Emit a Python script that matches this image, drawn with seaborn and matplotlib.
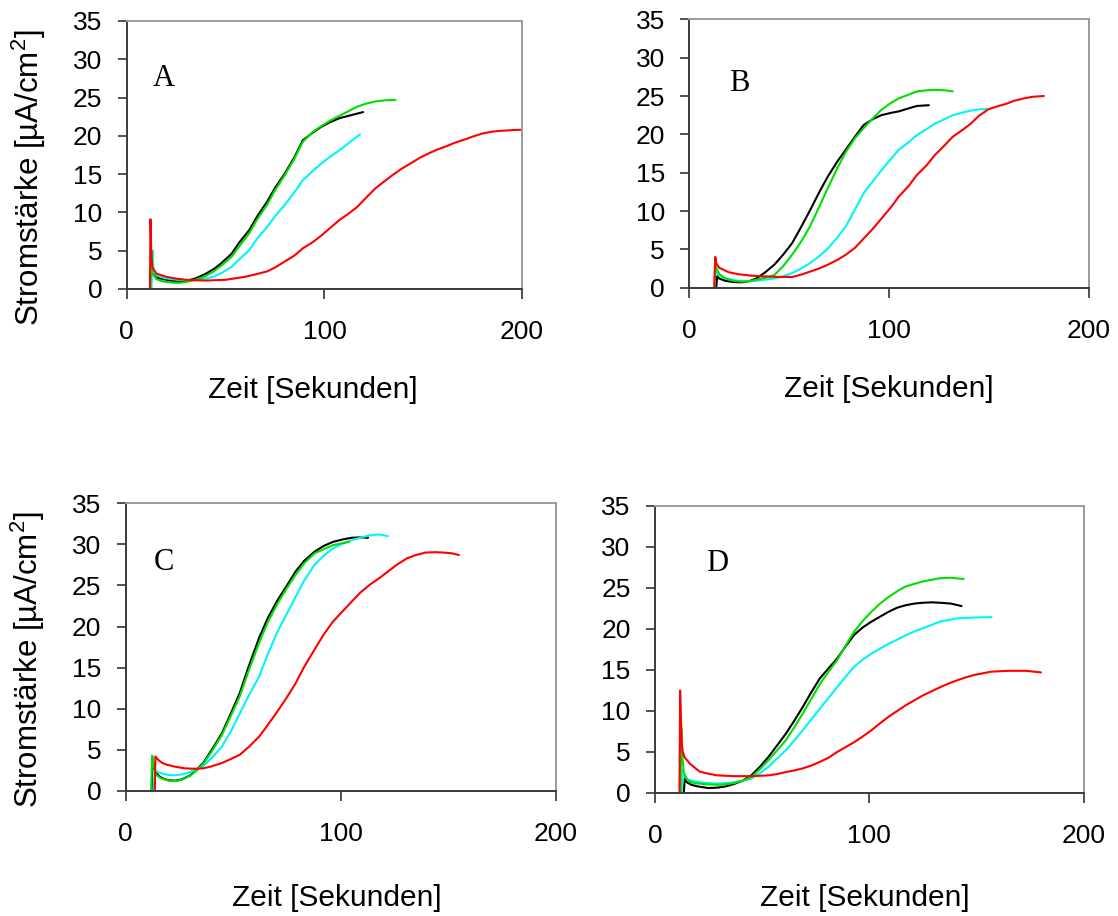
import matplotlib
matplotlib.use("Agg")
import matplotlib.pyplot as plt
import pandas as pd
import seaborn as sns

# ---------------- data ----------------
series_names = ["schwarz", "cyan", "grün", "rot"]
series_colors = {"schwarz": "#000000", "cyan": "#00f5f5", "grün": "#00e000", "rot": "#ff0000"}
panel_letters = ["A", "B", "C", "D"]
x_ticks = [0, 100, 200]
y_ticks = [0, 5, 10, 15, 20, 25, 30, 35]
x_label = "Zeit [Sekunden]"
y_label = "Stromstärke [µA/cm$^{\\mathregular{2}}$]"

# Panel A
A_black_t = [12.0, 12.3, 13, 15, 18, 22, 26, 30, 35, 40, 44, 48, 53, 57, 62, 66, 71, 75, 80, 85,
             89, 94, 98.5, 103, 107.5, 112, 116.5, 119.6]
A_black_i = [0, 3.0, 2.0, 1.5, 1.3, 1.1, 1.0, 1.05, 1.4, 2.0, 2.6, 3.4, 4.6, 6.1, 7.7, 9.5, 11.4, 13.2, 15.1, 17.3,
             19.4, 20.4, 21.2, 21.8, 22.3, 22.6, 22.9, 23.1]
A_green_t = [12.0, 12.5, 13, 15, 18, 22, 26, 30, 35, 40, 44, 48, 53, 57, 62, 66, 71, 75, 80, 85,
             89, 94, 98.5, 103, 107.5, 112, 116.5, 121, 126, 131, 136]
A_green_i = [0, 5.0, 2.0, 1.3, 1.0, 0.85, 0.8, 0.9, 1.2, 1.7, 2.3, 3.1, 4.2, 5.6, 7.3, 9.1, 11.0, 12.9, 14.9, 17.1,
             19.2, 20.5, 21.3, 22.0, 22.6, 23.2, 23.8, 24.2, 24.5, 24.65, 24.7]
A_cyan_t = [12.5, 13, 13.5, 15, 18, 22, 26, 30, 35, 40, 44, 48, 53, 57, 62, 66, 71, 75, 80, 85,
            89, 94, 98.5, 103, 107.5, 112, 118]
A_cyan_i = [0, 5.0, 2.5, 1.8, 1.5, 1.3, 1.2, 1.15, 1.2, 1.35, 1.6, 2.1, 2.9, 3.9, 5.1, 6.6, 8.1, 9.5, 11.0, 12.7,
            14.2, 15.4, 16.4, 17.3, 18.1, 19.0, 20.2]
A_red_t = [11.7, 12, 12.5, 13, 15, 20, 25, 30, 35, 40, 45, 50, 55, 60, 65, 71, 75, 80, 85, 89,
           94, 98.5, 103, 107.5, 112, 116.5, 121, 125.6, 130, 134.6, 139, 143.6, 148, 152.7, 157, 161.7, 166,
           170.7, 175, 179.8, 185, 188.8, 195, 200]
A_red_i = [0, 9.1, 4.0, 2.8, 2.0, 1.6, 1.35, 1.2, 1.15, 1.1, 1.15, 1.2, 1.4, 1.6, 1.9, 2.3, 2.8, 3.6, 4.4, 5.3,
           6.1, 7.0, 8.0, 9.0, 9.8, 10.7, 11.9, 13.1, 14.0, 14.9, 15.7, 16.4, 17.1, 17.7, 18.2, 18.65, 19.1,
           19.5, 19.9, 20.3, 20.55, 20.65, 20.75, 20.8]

# Panel B
B_black_t = [13.5, 14, 15, 18, 22, 26, 30, 33.6, 38, 42.6, 47, 51.5, 56, 60.5, 65, 69.4, 74, 78.4, 83, 87.3,
             92, 96.2, 101, 105, 110, 114, 120]
B_black_i = [0, 1.5, 1.2, 0.9, 0.75, 0.7, 0.85, 1.2, 2.0, 3.0, 4.3, 5.8, 7.9, 10.1, 12.4, 14.5, 16.4, 18.0, 19.7, 21.2,
             22.0, 22.5, 22.8, 23.0, 23.4, 23.7, 23.8]
B_green_t = [12.8, 13, 13.5, 15, 18, 22, 26, 30, 35, 38, 42.6, 47, 51.5, 56, 60.5, 65, 69.4, 74, 78.4, 83,
             87.3, 92, 96.2, 101, 105, 110, 114, 119, 123, 128, 132]
B_green_i = [0, 4.0, 2.6, 1.8, 1.2, 0.9, 0.8, 0.85, 1.1, 1.3, 1.65, 2.8, 4.3, 6.0, 8.0, 10.5, 13.0, 15.5, 17.7, 19.5,
             20.8, 22.1, 23.2, 24.1, 24.7, 25.2, 25.6, 25.75, 25.8, 25.75, 25.6]
B_cyan_t = [12.8, 13, 13.5, 15, 18, 22, 26, 30, 35, 38, 42.6, 47, 51.5, 56, 60.5, 65, 69.4, 74, 78.4, 83,
            87.3, 92, 96.2, 101, 105, 110, 114, 119, 123, 128, 132, 137, 141, 145, 149]
B_cyan_i = [0, 2.6, 2.0, 1.6, 1.2, 1.0, 0.85, 0.85, 0.95, 1.05, 1.2, 1.5, 1.9, 2.5, 3.2, 4.1, 5.1, 6.5, 8.0, 10.2,
            12.3, 13.9, 15.3, 16.8, 18.0, 19.0, 19.9, 20.7, 21.4, 22.0, 22.5, 22.85, 23.1, 23.25, 23.3]
B_red_t = [12.5, 13, 13.5, 15, 20, 25, 30, 35, 40, 45, 51.5, 56, 60.5, 65, 69.4, 74, 78.4, 83, 87.3, 92,
           96.2, 101, 105, 110, 114, 119, 123, 128, 132, 137, 141, 145, 150, 155, 158.9, 163, 167.8, 172, 177.6]
B_red_i = [0, 4.0, 3.2, 2.6, 2.0, 1.75, 1.6, 1.5, 1.45, 1.4, 1.4, 1.7, 2.1, 2.5, 3.0, 3.6, 4.3, 5.2, 6.4, 7.7,
           9.0, 10.5, 11.9, 13.3, 14.7, 16.0, 17.3, 18.6, 19.7, 20.6, 21.4, 22.4, 23.3, 23.7, 24.0, 24.4, 24.7,
           24.9, 25.0]

# Panel C
C_black_t = [12.0, 12.5, 13, 14, 16, 18, 20, 23, 26, 30, 33, 36, 40, 44.7, 49, 53, 57, 62, 66, 70.6,
             75, 79, 83, 87.8, 92, 96.4, 101, 105, 109, 112.7]
C_black_i = [0, 4.0, 3.0, 2.2, 1.7, 1.45, 1.3, 1.25, 1.4, 1.9, 2.6, 3.4, 5.0, 7.0, 9.5, 11.9, 15.0, 18.6, 21.0, 23.2,
             25.0, 26.7, 28.0, 29.1, 29.8, 30.3, 30.6, 30.8, 30.85, 30.8]
C_green_t = [11.8, 12.3, 13, 14, 16, 18, 20, 23, 26, 30, 33, 36, 40, 44.7, 49, 53, 57, 62, 66, 70.6,
             75, 79, 83, 87.8, 92, 96.4, 100, 104]
C_green_i = [0, 4.3, 3.0, 2.0, 1.6, 1.4, 1.25, 1.2, 1.35, 1.85, 2.5, 3.3, 4.8, 6.8, 9.2, 11.5, 14.5, 18.0, 20.5, 22.8,
             24.7, 26.3, 27.7, 28.9, 29.4, 29.9, 30.1, 30.3]
C_cyan_t = [13.0, 13.5, 14, 16, 18, 20, 22, 26, 30, 33, 36, 40, 44.7, 49, 53, 57, 62, 66, 70.6, 75,
            79, 83, 87.8, 92, 96.4, 101, 105, 109, 113.6, 118, 122]
C_cyan_i = [0, 2.6, 2.4, 2.2, 2.05, 1.95, 1.9, 2.0, 2.3, 2.7, 3.0, 4.0, 5.4, 7.3, 9.4, 11.5, 13.9, 16.6, 19.4, 21.6,
            23.6, 25.6, 27.5, 28.6, 29.5, 30.1, 30.5, 30.8, 31.1, 31.2, 31.0]
C_red_t = [13.5, 13.8, 15, 17, 19, 23, 27.5, 32, 36, 40, 44.7, 49, 53, 57, 62, 66, 70.6, 75, 79, 83,
           87.8, 92, 96.4, 101, 105, 109, 113.6, 118, 122, 126, 130.8, 135, 139.4, 144, 148, 152, 155]
C_red_i = [0, 4.2, 3.8, 3.4, 3.2, 2.95, 2.75, 2.7, 2.75, 3.0, 3.4, 3.9, 4.4, 5.3, 6.6, 8.0, 9.7, 11.4, 13.1, 15.1,
           17.2, 19.0, 20.6, 21.9, 23.0, 24.1, 25.1, 25.9, 26.7, 27.5, 28.3, 28.7, 29.0, 29.05, 29.0, 28.9, 28.7]

# Panel D
D_black_t = [13.5, 14, 15, 17, 20, 25, 29, 33, 37, 41, 45, 49, 53, 57, 61, 65, 69, 73, 77, 81,
             85, 89, 93, 97, 101, 105, 109, 113, 117, 121, 125, 129, 133, 138, 143]
D_black_i = [0, 1.8, 1.3, 1.0, 0.8, 0.6, 0.65, 0.8, 1.1, 1.5, 2.15, 3.2, 4.4, 5.8, 7.2, 8.8, 10.5, 12.3, 14.0, 15.2,
             16.4, 17.9, 19.3, 20.2, 20.9, 21.5, 22.1, 22.6, 22.9, 23.1, 23.2, 23.25, 23.2, 23.1, 22.8]
D_green_t = [12.0, 12.3, 12.8, 13.5, 15, 17, 20, 25, 29, 33, 37, 41, 45, 49, 53, 57, 61, 65, 69, 73,
             77, 81, 85, 89, 93, 97, 101, 105, 109, 113, 117, 121, 125, 129, 133, 138, 144]
D_green_i = [0, 8.0, 4.5, 2.5, 1.6, 1.3, 1.15, 1.05, 1.0, 1.05, 1.2, 1.5, 1.95, 2.9, 4.0, 5.2, 6.4, 8.0, 9.7, 11.5,
             13.3, 14.8, 16.2, 18.0, 19.7, 21.0, 22.1, 23.1, 23.9, 24.6, 25.2, 25.5, 25.8, 26.0, 26.2, 26.25, 26.1]
D_cyan_t = [12.5, 13, 13.5, 15, 17, 20, 25, 29, 33, 37, 41, 45, 49, 53, 57, 61, 65, 69, 73, 77,
            81, 85, 89, 93, 97, 101, 105, 109, 113, 117, 121, 125, 129, 133, 137, 141, 149, 157]
D_cyan_i = [0, 2.8, 2.2, 1.7, 1.5, 1.35, 1.2, 1.15, 1.2, 1.3, 1.5, 1.75, 2.4, 3.2, 4.2, 5.2, 6.4, 7.65, 9.0, 10.3,
            11.6, 12.9, 14.2, 15.4, 16.3, 17.0, 17.6, 18.2, 18.7, 19.25, 19.7, 20.1, 20.5, 20.9, 21.1, 21.3, 21.4, 21.45]
D_red_t = [11.5, 11.8, 12.2, 12.6, 13, 14, 16.3, 19, 21, 25, 29, 33, 37, 41, 45, 49, 53, 57, 61, 65,
           69, 73, 77, 81, 85, 89, 93, 97, 101, 105, 109, 113, 117, 121, 125, 129, 133, 137, 141, 145,
           149, 153, 157, 161, 165, 173, 180]
D_red_i = [0, 12.5, 9.0, 6.0, 5.0, 4.3, 3.6, 3.0, 2.6, 2.35, 2.15, 2.1, 2.05, 2.05, 2.05, 2.1, 2.15, 2.3, 2.55, 2.75,
           3.0, 3.35, 3.8, 4.3, 5.0, 5.6, 6.2, 6.9, 7.65, 8.5, 9.3, 10.0, 10.7, 11.3, 11.9, 12.4, 12.9, 13.35, 13.75,
           14.1, 14.4, 14.6, 14.8, 14.85, 14.9, 14.9, 14.7]

panel_data = {
    "A": {"schwarz": (A_black_t, A_black_i), "cyan": (A_cyan_t, A_cyan_i),
          "grün": (A_green_t, A_green_i), "rot": (A_red_t, A_red_i)},
    "B": {"schwarz": (B_black_t, B_black_i), "cyan": (B_cyan_t, B_cyan_i),
          "grün": (B_green_t, B_green_i), "rot": (B_red_t, B_red_i)},
    "C": {"schwarz": (C_black_t, C_black_i), "cyan": (C_cyan_t, C_cyan_i),
          "grün": (C_green_t, C_green_i), "rot": (C_red_t, C_red_i)},
    "D": {"schwarz": (D_black_t, D_black_i), "cyan": (D_cyan_t, D_cyan_i),
          "grün": (D_green_t, D_green_i), "rot": (D_red_t, D_red_i)},
}

# ---------------- styling / layout ----------------
sns.set_theme(style="white")
plt.rcParams["font.family"] = ["Liberation Sans", "DejaVu Sans"]
plt.rcParams["mathtext.fontset"] = "custom"
plt.rcParams["mathtext.rm"] = "Liberation Sans"
plt.rcParams["mathtext.it"] = "Liberation Sans:italic"
plt.rcParams["mathtext.bf"] = "Liberation Sans:bold"

fig = plt.figure(figsize=(11.18, 9.16), dpi=100)

# axes rectangles [left, bottom, width, height] in figure fraction
rects = {
    "A": [0.1134, 0.6845, 0.3536, 0.2926],
    "B": [0.6165, 0.6859, 0.3572, 0.2930],
    "C": [0.1125, 0.1365, 0.3845, 0.3141],
    "D": [0.5857, 0.1343, 0.3837, 0.3133],
}
letter_pos = {"A": (0.094, 0.784), "B": (0.125, 0.762), "C": (0.088, 0.793), "D": (0.145, 0.801)}
xlabel_pos = {"A": (0.47, -0.377), "B": (0.50, -0.379), "C": (0.49, -0.372), "D": (0.49, -0.366)}
ylabel_pos = {"A": (-0.248, 0.414), "C": (-0.228, 0.455)}

for letter in panel_letters:
    ax = fig.add_axes(rects[letter])
    rows = []
    for name in series_names:
        t, i = panel_data[letter][name]
        assert len(t) == len(i), (letter, name)
        for tt, ii in zip(t, i):
            rows.append({"t": tt, "I": ii, "Serie": name})
    df = pd.DataFrame(rows)
    sns.lineplot(data=df, x="t", y="I", hue="Serie", hue_order=series_names,
                 palette=series_colors, estimator=None, sort=False, legend=False,
                 linewidth=1.5, ax=ax)

    ax.set_xlim(0, 200)
    ax.set_ylim(0, 35)
    ax.set_xticks(x_ticks)
    ax.set_yticks(y_ticks)
    ax.set_xticklabels([str(v) for v in x_ticks])
    ax.set_yticklabels([str(v) for v in y_ticks])

    for side in ["top", "right"]:
        ax.spines[side].set_color("#9a9a9a")
        ax.spines[side].set_linewidth(1.4)
    for side in ["left", "bottom"]:
        ax.spines[side].set_color("#3a3a3a")
        ax.spines[side].set_linewidth(1.4)

    ax.tick_params(axis="y", left=True, direction="out", length=6.5, width=1.1,
                   color="#222222", labelsize=19, pad=11, labelcolor="black")
    ax.tick_params(axis="x", bottom=True, direction="out", length=7.2, width=1.1,
                   color="#222222", labelsize=19, pad=15, labelcolor="black")

    ax.set_xlabel(x_label, fontsize=21.5, color="black")
    ax.xaxis.set_label_coords(*xlabel_pos[letter])
    ax.xaxis.label.set_verticalalignment("center")

    if letter in ylabel_pos:
        ax.set_ylabel(y_label, fontsize=22.5, color="black")
        ax.yaxis.set_label_coords(*ylabel_pos[letter])
        ax.yaxis.label.set_verticalalignment("center")
    else:
        ax.set_ylabel("")

    ax.text(letter_pos[letter][0], letter_pos[letter][1], letter, transform=ax.transAxes,
            fontsize=22, family=["Liberation Serif", "DejaVu Serif"], ha="center", va="center",
            color="black")
    ax.grid(False)

fig.savefig("out.png", dpi=100, facecolor="white")
